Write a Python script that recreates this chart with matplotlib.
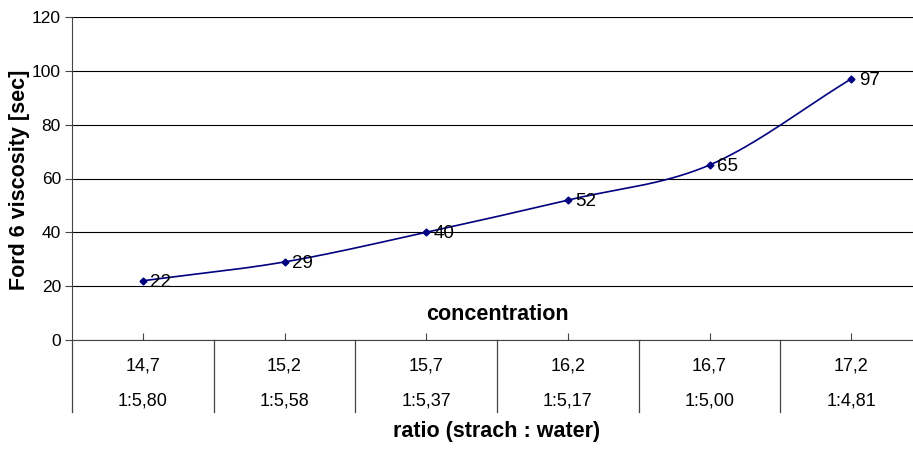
import numpy as np
import matplotlib
matplotlib.use("Agg")
import matplotlib.pyplot as plt
import matplotlib.transforms as mtransforms

plt.rcParams["font.family"] = ["Liberation Sans", "DejaVu Sans"]

concentration = ["14,7", "15,2", "15,7", "16,2", "16,7", "17,2"]
ratio = ["1:5,80", "1:5,58", "1:5,37", "1:5,17", "1:5,00", "1:4,81"]
viscosity = [22, 29, 40, 52, 65, 97]

LINE = "#000080"
AXIS = "#444444"
W, H = 913, 450


def smooth_curve(xs, ys, steps=40):
    # catmull-rom through the points, like the office "smoothed line"
    px = np.asarray(xs, float)
    py = np.asarray(ys, float)
    px = np.concatenate([[2 * px[0] - px[1]], px, [2 * px[-1] - px[-2]]])
    py = np.concatenate([[2 * py[0] - py[1]], py, [2 * py[-1] - py[-2]]])
    out_x, out_y = [], []
    t = np.linspace(0, 1, steps)
    for i in range(1, len(px) - 2):
        p0, p1, p2, p3 = [np.array([px[j], py[j]]) for j in (i - 1, i, i + 1, i + 2)]
        c1 = p1 + (p2 - p0) / 6
        c2 = p2 - (p3 - p1) / 6
        seg = ((1 - t) ** 3)[:, None] * p1 + (3 * (1 - t) ** 2 * t)[:, None] * c1 \
            + (3 * (1 - t) * t ** 2)[:, None] * c2 + (t ** 3)[:, None] * p2
        out_x.extend(seg[:, 0])
        out_y.extend(seg[:, 1])
    return np.array(out_x), np.array(out_y)


fig = plt.figure(figsize=(W / 100, H / 100), dpi=100)
left, right, top, bottom = 72, 922, 17, 340
ax = fig.add_axes([left / W, 1 - bottom / H, (right - left) / W, (bottom - top) / H])
ph = bottom - top

x = np.arange(len(viscosity))
ax.set_xlim(-0.5, len(viscosity) - 0.5)
ax.set_ylim(0, 120)
ax.set_yticks(range(0, 121, 20))
ax.yaxis.grid(True, color="black", linewidth=0.8)
ax.set_axisbelow(True)
for s in ("top", "right"):
    ax.spines[s].set_visible(False)
ax.spines["bottom"].set_color(AXIS)
ax.spines["left"].set_color(AXIS)
ax.spines["left"].set_bounds(0, 120)
ax.tick_params(axis="y", length=5, pad=3, labelsize=12.5, color=AXIS)
ax.set_xticks(x)
ax.tick_params(axis="x", direction="in", length=5, labelbottom=False, color=AXIS)

sx, sy = smooth_curve(x, viscosity)
ax.plot(sx, sy, color=LINE, linewidth=1.2, clip_on=False, zorder=3)
ax.plot(x, viscosity, linestyle="none", marker="D", markersize=3.5,
        color=LINE, clip_on=False, zorder=4)
for xi, v in zip(x, viscosity):
    ax.annotate(str(v), (xi, v), xytext=(5.5, -1), textcoords="offset points",
                ha="left", va="center", fontsize=13.5, zorder=5)

# two level category axis
trans = mtransforms.blended_transform_factory(ax.transData, ax.transAxes)
drop = -72 / ph
for xb in np.arange(-0.5, len(viscosity) - 0.5):
    ax.plot([xb, xb], [0, drop], transform=trans, color=AXIS,
            linewidth=0.9, clip_on=False)
for xi, c, r in zip(x, concentration, ratio):
    ax.text(xi, -26 / ph, c, transform=trans, ha="center", va="center", fontsize=13)
    ax.text(xi, -61 / ph, r, transform=trans, ha="center", va="center", fontsize=13)

ax.text(0.5, 25 / ph, "concentration", transform=ax.transAxes,
        ha="center", va="center", fontsize=15.5, fontweight="bold")
ax.text(0.5, -92 / ph, "ratio (strach : water)", transform=ax.transAxes,
        ha="center", va="center", fontsize=15.5, fontweight="bold")
fig.text(20 / W, 1 - 180 / H, "Ford 6 viscosity [sec]", rotation=90,
         ha="center", va="center", fontsize=15.5, fontweight="bold")

fig.savefig("out.png", dpi=100)
